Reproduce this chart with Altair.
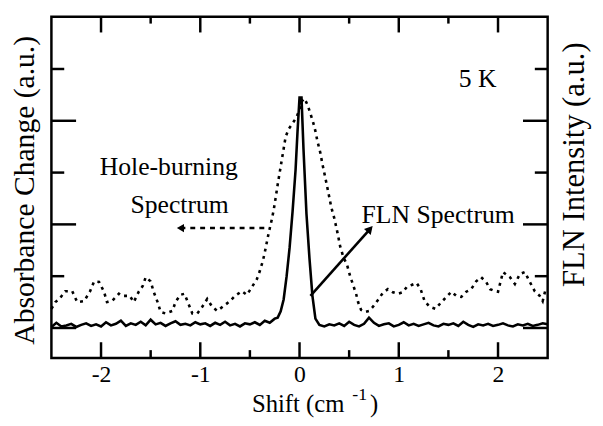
import altair as alt
import pandas as pd

# Hole-burning spectrum (dotted), shift in cm-1 and absorbance change (a.u.)
hb_x = [-2.50, -2.46, -2.42, -2.36, -2.29, -2.24, -2.17, -2.11, -2.07, -2.02,
        -1.97, -1.94, -1.89, -1.82, -1.79, -1.71, -1.67, -1.62, -1.58, -1.55,
        -1.50, -1.47, -1.43, -1.40, -1.35, -1.28, -1.25, -1.20, -1.16, -1.13,
        -1.08, -1.03, -0.98, -0.93, -0.88, -0.83, -0.76, -0.70, -0.65, -0.58,
        -0.53, -0.48, -0.43, -0.40, -0.37, -0.35, -0.33, -0.31, -0.28, -0.26,
        -0.24, -0.22, -0.20, -0.18, -0.16, -0.14, -0.11, -0.07, -0.03, 0.00,
        0.02, 0.05, 0.08, 0.11, 0.14, 0.16, 0.18, 0.21, 0.23, 0.26,
        0.29, 0.32, 0.35, 0.38, 0.41, 0.44, 0.48, 0.51, 0.54, 0.57,
        0.59, 0.62, 0.66, 0.70, 0.74, 0.79, 0.84, 0.89, 0.94, 0.99,
        1.04, 1.08, 1.13, 1.18, 1.22, 1.26, 1.31, 1.37, 1.43, 1.48,
        1.53, 1.58, 1.63, 1.68, 1.73, 1.78, 1.83, 1.88, 1.92, 1.97,
        2.00, 2.05, 2.12, 2.17, 2.22, 2.27, 2.32, 2.37, 2.42, 2.45, 2.48]
hb_y = [0.37, 0.50, 0.56, 0.71, 0.71, 0.50, 0.52, 0.71, 0.90, 0.89,
        0.70, 0.50, 0.52, 0.66, 0.62, 0.62, 0.50, 0.70, 0.81, 0.98,
        0.90, 0.70, 0.50, 0.31, 0.28, 0.33, 0.50, 0.64, 0.66, 0.52,
        0.28, 0.28, 0.41, 0.56, 0.41, 0.33, 0.43, 0.52, 0.62, 0.71,
        0.64, 0.79, 0.94, 1.10, 1.29, 1.46, 1.65, 1.84, 2.09, 2.28,
        2.52, 2.77, 3.00, 3.23, 3.46, 3.69, 3.84, 3.95, 4.07, 4.22,
        4.37, 4.43, 4.31, 4.14, 3.95, 3.80, 3.61, 3.38, 3.17, 2.90,
        2.62, 2.33, 2.12, 1.86, 1.57, 1.38, 1.21, 1.00, 0.83, 0.66,
        0.50, 0.35, 0.31, 0.33, 0.41, 0.54, 0.68, 0.75, 0.69, 0.66,
        0.69, 0.79, 0.83, 0.87, 0.75, 0.52, 0.41, 0.37, 0.50, 0.60,
        0.70, 0.62, 0.60, 0.70, 0.75, 0.90, 0.98, 0.89, 0.75, 0.71,
        0.70, 1.08, 0.98, 0.85, 1.04, 1.08, 0.89, 0.71, 0.62, 0.52, 0.75]

# FLN spectrum (solid), shift in cm-1 and intensity (a.u.)
fln_x = [-2.50, -2.45, -2.40, -2.35, -2.30, -2.25, -2.20, -2.15, -2.10, -2.05,
         -2.00, -1.95, -1.90, -1.85, -1.80, -1.75, -1.70, -1.65, -1.60, -1.55,
         -1.50, -1.45, -1.40, -1.35, -1.30, -1.25, -1.20, -1.15, -1.10, -1.05,
         -1.00, -0.95, -0.90, -0.85, -0.80, -0.75, -0.70, -0.65, -0.60, -0.55,
         -0.50, -0.45, -0.40, -0.35, -0.30, -0.25,
         -0.22, -0.19, -0.16, -0.13, -0.10, -0.07, -0.04, -0.02, 0.00, 0.02,
         0.04, 0.07, 0.10, 0.13, 0.16,
         0.20, 0.25, 0.30, 0.35, 0.40, 0.45, 0.50, 0.55, 0.60, 0.65,
         0.70, 0.75, 0.80, 0.85, 0.90, 0.95, 1.00, 1.05, 1.10, 1.15,
         1.20, 1.25, 1.30, 1.35, 1.40, 1.45, 1.50, 1.55, 1.60, 1.65,
         1.70, 1.75, 1.80, 1.85, 1.90, 1.95, 2.00, 2.05, 2.10, 2.15,
         2.20, 2.25, 2.30, 2.35, 2.40, 2.45, 2.50]
fln_y = [0.02, 0.10, 0.03, 0.05, 0.08, 0.02, 0.06, 0.09, 0.04, 0.07,
         0.03, 0.11, 0.05, 0.08, 0.14, 0.04, 0.09, 0.06, 0.12, 0.05,
         0.16, 0.07, 0.10, 0.04, 0.09, 0.13, 0.06, 0.08, 0.05, 0.11,
         0.07, 0.09, 0.04, 0.10, 0.06, 0.12, 0.05, 0.08, 0.03, 0.09,
         0.07, 0.11, 0.06, 0.14, 0.10, 0.18,
         0.20, 0.32, 0.55, 1.00, 1.55, 2.25, 3.05, 3.80, 4.45, 4.45,
         3.45, 2.20, 1.35, 0.62, 0.18,
         0.06, 0.03, 0.07, 0.05, 0.09, 0.04, 0.12, 0.06, 0.03, 0.08,
         0.20, 0.10, 0.04, 0.07, 0.09, 0.03, 0.06, 0.11, 0.05, 0.08,
         0.04, 0.07, 0.10, 0.05, 0.03, 0.08, 0.06, 0.09, 0.04, 0.12,
         0.06, 0.02, 0.07, 0.05, 0.08, 0.04, 0.06, 0.09, 0.05, 0.03,
         0.07, 0.05, 0.08, 0.04, 0.06, 0.09, 0.07]

# Annotation arrows (data coordinates)
hb_arrow_x = [-0.35, -1.20]
hb_arrow_y = [1.93, 1.93]
fln_arrow_x = [0.11, 0.71]
fln_arrow_y = [0.62, 1.91]

# Axis ticks
major_x = [-2, -1, 0, 1, 2]
minor_x = [-1.5, -0.5, 0.5, 1.5]
long_y = [0, 2, 4]
short_y = [1, 3, 5]

W, H = 503, 346
FONT = "Liberation Serif"
xs = alt.Scale(domain=[-2.5, 2.5], nice=False, zero=False)
ys = alt.Scale(domain=[-0.58, 6.01], nice=False, zero=False)

hb = pd.DataFrame({"x": hb_x, "y": hb_y})
fln = pd.DataFrame({"x": fln_x, "y": fln_y})

x_axis = alt.Axis(values=major_x, ticks=False, domain=False, grid=False,
                  labelFont=FONT, labelFontSize=24, labelColor="black",
                  labelPadding=5, labelExpr="'' + datum.value", title=None)

hb_line = alt.Chart(hb).mark_line(color="black", strokeWidth=2.6,
                                  strokeDash=[3, 4.5]).encode(
    x=alt.X("x:Q", scale=xs, axis=x_axis),
    y=alt.Y("y:Q", scale=ys, axis=None),
)
fln_line = alt.Chart(fln).mark_line(color="black", strokeWidth=2.6).encode(
    x=alt.X("x:Q", scale=xs),
    y=alt.Y("y:Q", scale=ys),
)

hb_arr = alt.Chart(pd.DataFrame({"x": hb_arrow_x, "y": hb_arrow_y})).mark_line(
    color="black", strokeWidth=2.4, strokeDash=[5, 5]).encode(
    x=alt.X("x:Q", scale=xs), y=alt.Y("y:Q", scale=ys))
hb_head = alt.Chart(pd.DataFrame({"x": [hb_arrow_x[1]], "y": [hb_arrow_y[1]]})).mark_point(
    shape="triangle-left", filled=True, color="black", size=70, opacity=1).encode(
    x=alt.X("x:Q", scale=xs), y=alt.Y("y:Q", scale=ys))

fln_arr = alt.Chart(pd.DataFrame({"x": fln_arrow_x, "y": fln_arrow_y})).mark_line(
    color="black", strokeWidth=2.6).encode(
    x=alt.X("x:Q", scale=xs), y=alt.Y("y:Q", scale=ys))
fln_head = alt.Chart(pd.DataFrame({"x": [fln_arrow_x[1]], "y": [fln_arrow_y[1]]})).mark_point(
    shape="triangle-up", filled=True, color="black", size=85, angle=42, opacity=1).encode(
    x=alt.X("x:Q", scale=xs), y=alt.Y("y:Q", scale=ys))

def vticks(vals, y0, y1):
    return alt.Chart(pd.DataFrame({"x": vals})).mark_rule(
        color="black", strokeWidth=2.5).encode(
        x=alt.X("x:Q", scale=xs), y=alt.value(y0), y2=alt.value(y1))

def hticks(vals, x0, x1):
    return alt.Chart(pd.DataFrame({"y": vals})).mark_rule(
        color="black", strokeWidth=2.5).encode(
        y=alt.Y("y:Q", scale=ys), x=alt.value(x0), x2=alt.value(x1))

ticks = [
    vticks(major_x, H, H - 16), vticks(minor_x, H, H - 8),
    vticks(major_x, 0, 16), vticks(minor_x, 0, 7),
    hticks(long_y, 0, 25), hticks(short_y, 0, 13),
    hticks(long_y, W, W - 25), hticks(short_y, W, W - 13),
]

def label(txt, x, y, size, angle=0, align="center", baseline="middle"):
    return alt.Chart(pd.DataFrame({"t": [txt]})).mark_text(
        font=FONT, fontSize=size, color="black", align=align,
        baseline=baseline, angle=angle).encode(
        text="t:N", x=alt.value(x), y=alt.value(y))

texts = [
    label("5 K", 432, 63, 26),
    label("Hole-burning", 119, 152, 26),
    label("Spectrum", 130, 191, 26),
    label("FLN Spectrum", 392, 201, 26),
    label("Absorbance Change (a.u.)", -27, 176, 30, angle=270),
    label("FLN Intensity (a.u.)", 531, 150, 31, angle=270),
    label("Shift (cm", 297, 401, 25, align="right", baseline="alphabetic"),
    label("-1", 305, 389, 18, align="left", baseline="alphabetic"),
    label(")", 323, 401, 25, align="left", baseline="alphabetic"),
]

chart = alt.layer(hb_line, fln_line, hb_arr, hb_head, fln_arr, fln_head,
                  *ticks, *texts).properties(
    width=W, height=H,
    autosize=alt.AutoSizeParams(type="none"),
    padding={"left": 44, "top": 6, "right": 48, "bottom": 58},
).configure_view(stroke="black", strokeWidth=2.5)

chart.save("out.html", embed_options={"renderer": "svg", "actions": False})
